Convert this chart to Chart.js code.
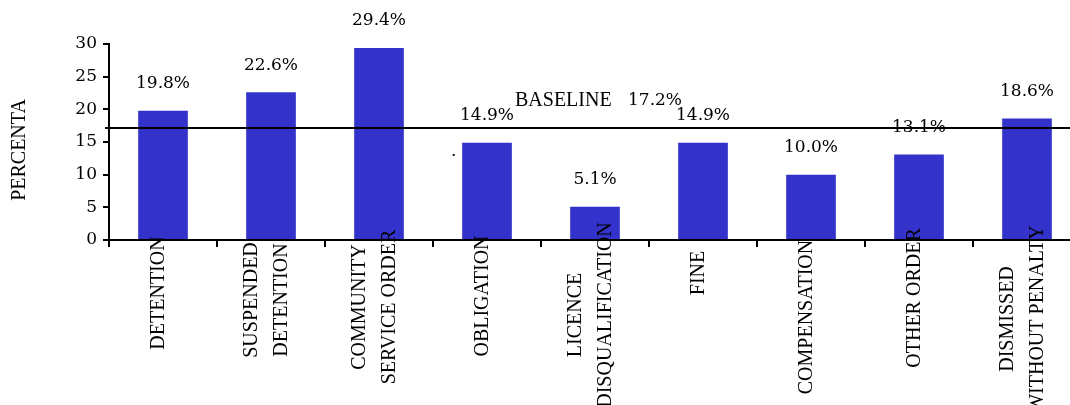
<!DOCTYPE html>
<html>
<head>
<meta charset="utf-8">
<script src="https://cdn.jsdelivr.net/npm/chart.js@4.4.0/dist/chart.umd.min.js"></script>
<style>
    html, body { margin: 0; padding: 0; background: #fff; overflow: hidden; }
    #wrap { position: relative; width: 1090px; height: 405px; }
</style>
</head>
<body>
<div id="wrap"><canvas id="sentenceChart"></canvas></div>
<script>
// Sentence outcomes, percent of cases
var categories = [
    ['DETENTION'],
    ['SUSPENDED', 'DETENTION'],
    ['COMMUNITY', 'SERVICE ORDER'],
    ['OBLIGATION'],
    ['LICENCE', 'DISQUALIFICATION'],
    ['FINE'],
    ['COMPENSATION'],
    ['OTHER ORDER'],
    ['DISMISSED', 'WITHOUT PENALTY']
];
var percentages = [19.8, 22.6, 29.4, 14.9, 5.1, 14.9, 10.0, 13.1, 18.6];
var yTicks = [0, 5, 10, 15, 20, 25, 30];
var baselineValue = 17.2;
var axisTitle = 'PERCENTA';

var serifNum = '"DejaVu Serif", serif';
var serifText = '"Liberation Serif", "Times New Roman", serif';

// vertical middle of each rotated category label
var labelMid = [293, 300, 307, 296, 315, 273, 317, 298, 319];

var annotations = {
    id: 'annotations',
    afterDatasetsDraw: function(chart) {
        var ctx = chart.ctx;
        var area = chart.chartArea;
        var yScale = chart.scales.y;
        var bars = chart.getDatasetMeta(0).data;
        ctx.save();

        // baseline rule across the plot
        var by = Math.round(yScale.getPixelForValue(baselineValue));
        ctx.strokeStyle = '#000';
        ctx.lineWidth = 2;
        ctx.beginPath();
        ctx.moveTo(area.left - 4, by);
        ctx.lineTo(area.right, by);
        ctx.stroke();

        ctx.fillStyle = '#000';
        ctx.textBaseline = 'middle';
        ctx.textAlign = 'left';
        ctx.font = '20px ' + serifText;
        ctx.fillText('BASELINE', 515, 101);
        ctx.font = '17px ' + serifNum;
        ctx.fillText(baselineValue.toFixed(1) + '%', 628, 101);
        ctx.fillText('.', 451, 152);

        // value labels above bars
        ctx.textAlign = 'center';
        bars.forEach(function(bar, i) {
            ctx.fillText(percentages[i].toFixed(1) + '%', bar.x, bar.y - 27);
        });

        // rotated category labels
        ctx.font = '20px ' + serifText;
        bars.forEach(function(bar, i) {
            var lines = categories[i];
            lines.forEach(function(line, j) {
                var lx = bar.x - 4.5 + (j - (lines.length - 1) / 2) * 30;
                ctx.save();
                ctx.translate(lx, labelMid[i]);
                ctx.rotate(-Math.PI / 2);
                ctx.fillText(line, 0, 0);
                ctx.restore();
            });
        });

        // y axis title
        ctx.save();
        ctx.translate(20, 150);
        ctx.rotate(-Math.PI / 2);
        ctx.fillText(axisTitle, 0, 0);
        ctx.restore();

        ctx.restore();
    }
};

var ctx = document.getElementById('sentenceChart').getContext('2d');
var chart = new Chart(ctx, {
    type: 'bar',
    data: {
        labels: categories,
        datasets: [{
            data: percentages,
            backgroundColor: '#3333cc',
            borderWidth: 0,
            categoryPercentage: 1,
            barPercentage: 0.46
        }]
    },
    options: {
        responsive: true,
        maintainAspectRatio: false,
        animation: false,
        layout: { padding: { top: 44, right: 9, bottom: 158, left: 0 } },
        plugins: {
            legend: { display: false },
            tooltip: { enabled: false }
        },
        scales: {
            x: {
                offset: true,
                ticks: { display: false },
                grid: {
                    offset: true,
                    drawOnChartArea: false,
                    drawTicks: true,
                    tickLength: 7,
                    color: '#000',
                    lineWidth: 2
                },
                border: { display: true, color: '#000', width: 2 }
            },
            y: {
                min: 0,
                max: 30,
                afterBuildTicks: function(scale) {
                    scale.ticks = yTicks.map(function(v) { return { value: v }; });
                },
                afterFit: function(scale) { scale.width = 109; },
                ticks: {
                    color: '#000',
                    padding: 6,
                    font: { family: serifNum, size: 17 }
                },
                grid: {
                    drawOnChartArea: false,
                    drawTicks: true,
                    tickLength: 6,
                    color: '#000',
                    lineWidth: 2
                },
                border: { display: true, color: '#000', width: 2 }
            }
        }
    },
    plugins: [annotations]
});
</script>
</body>
</html>
